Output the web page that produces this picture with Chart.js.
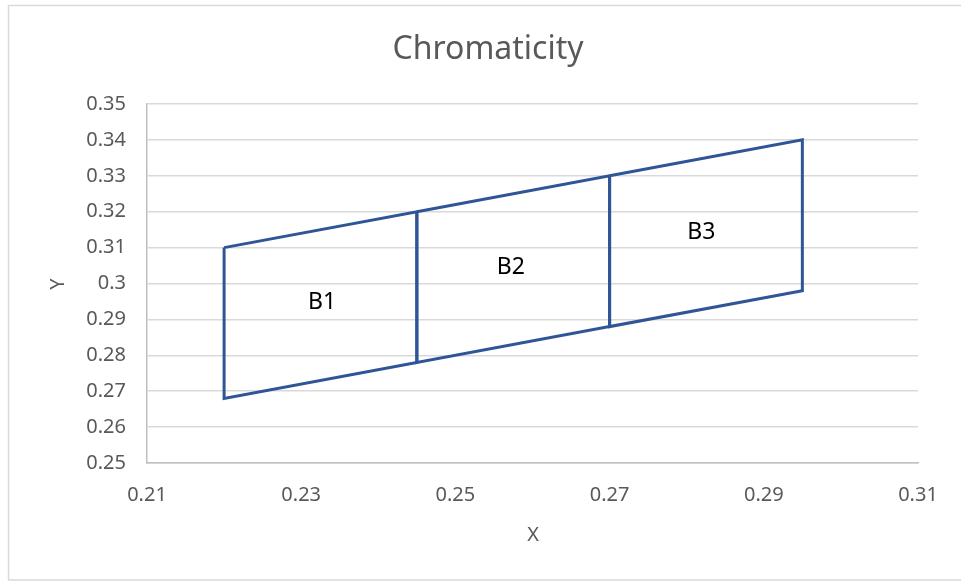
<!DOCTYPE html>
<html lang="en">
<head>
    <meta charset="UTF-8">
    <title>Chromaticity</title>
    <script src="https://cdn.jsdelivr.net/npm/chart.js"></script>
    <style>
        html, body {
            margin: 0;
            padding: 0;
            background: #ffffff;
        }
        .chart-container {
            width: 961px;
            height: 581px;
        }
    </style>
</head>
<body>
<div class="chart-container">
    <canvas id="chromaChart" width="961" height="581"></canvas>
</div>

<script>
    // bin corners (x shared by top and bottom edge)
    const binEdgesX = [0.22, 0.245, 0.27, 0.295];
    const topEdgeY = [0.31, 0.32, 0.33, 0.34];
    const bottomEdgeY = [0.268, 0.278, 0.288, 0.298];

    // bin names and where the labels sit
    const binNames = ['B1', 'B2', 'B3'];
    const binLabelX = [0.2327, 0.2572, 0.2819];
    const binLabelY = [0.2946, 0.3046, 0.3142];

    const xTicks = [0.21, 0.23, 0.25, 0.27, 0.29, 0.31];
    const yTicks = [0.25, 0.26, 0.27, 0.28, 0.29, 0.3, 0.31, 0.32, 0.33, 0.34, 0.35];

    const FONT = '"Noto Sans", "Open Sans", sans-serif';
    const GREY_TEXT = '#595959';
    const LINE_BLUE = '#2f5597';

    // one closed outline per bin
    const datasets = binNames.map((name, i) => ({
        label: name,
        data: [
            {x: binEdgesX[i], y: topEdgeY[i]},
            {x: binEdgesX[i + 1], y: topEdgeY[i + 1]},
            {x: binEdgesX[i + 1], y: bottomEdgeY[i + 1]},
            {x: binEdgesX[i], y: bottomEdgeY[i]},
            {x: binEdgesX[i], y: topEdgeY[i]}
        ],
        showLine: true,
        borderColor: LINE_BLUE,
        borderWidth: 3,
        pointRadius: 0,
        fill: false,
        tension: 0
    }));

    // title, axis titles, bin labels and outer frame
    const decorations = {
        id: 'decorations',
        afterDraw(chart) {
            const c = chart.ctx;
            const xs = chart.scales.x;
            const ys = chart.scales.y;
            c.save();

            c.strokeStyle = '#d9d9d9';
            c.lineWidth = 1.5;
            c.strokeRect(8.5, 5.5, 970, 574.5);

            c.fillStyle = GREY_TEXT;
            c.textAlign = 'center';
            c.textBaseline = 'middle';
            c.font = '32px ' + FONT;
            c.fillText('Chromaticity', 488, 50);

            c.font = '20px ' + FONT;
            c.fillText('X', 533, 535);
            c.save();
            c.translate(58, 284);
            c.rotate(-Math.PI / 2);
            c.fillText('Y', 0, 0);
            c.restore();

            c.fillStyle = '#000000';
            c.font = '23px ' + FONT;
            binNames.forEach((name, i) => {
                c.fillText(name, xs.getPixelForValue(binLabelX[i]), ys.getPixelForValue(binLabelY[i]));
            });
            c.restore();
        }
    };

    const ctx = document.getElementById('chromaChart').getContext('2d');
    const chromaChart = new Chart(ctx, {
        type: 'scatter',
        data: {datasets: datasets},
        options: {
            responsive: false,
            animation: false,
            layout: {
                padding: {top: 104, right: 43, left: 8, bottom: 8}
            },
            plugins: {
                legend: {display: false},
                tooltip: {enabled: false}
            },
            scales: {
                x: {
                    type: 'linear',
                    min: 0.21,
                    max: 0.31,
                    afterBuildTicks(scale) {
                        scale.ticks = xTicks.map(v => ({value: v}));
                    },
                    afterFit(scale) {
                        scale.height = 581 - 463 - 8;
                    },
                    ticks: {
                        padding: 20,
                        color: GREY_TEXT,
                        font: {family: FONT, size: 20},
                        callback: v => String(v)
                    },
                    grid: {display: false, drawTicks: false},
                    border: {display: true, color: '#bfbfbf', width: 1.5}
                },
                y: {
                    type: 'linear',
                    min: 0.25,
                    max: 0.35,
                    afterBuildTicks(scale) {
                        scale.ticks = yTicks.map(v => ({value: v}));
                    },
                    afterFit(scale) {
                        scale.width = 147 - 8;
                    },
                    ticks: {
                        padding: 21,
                        color: GREY_TEXT,
                        font: {family: FONT, size: 20},
                        callback: v => String(v)
                    },
                    grid: {color: '#d9d9d9', lineWidth: 1.5, drawTicks: false},
                    border: {display: true, color: '#bfbfbf', width: 1.5}
                }
            }
        },
        plugins: [decorations]
    });
</script>
</body>
</html>
